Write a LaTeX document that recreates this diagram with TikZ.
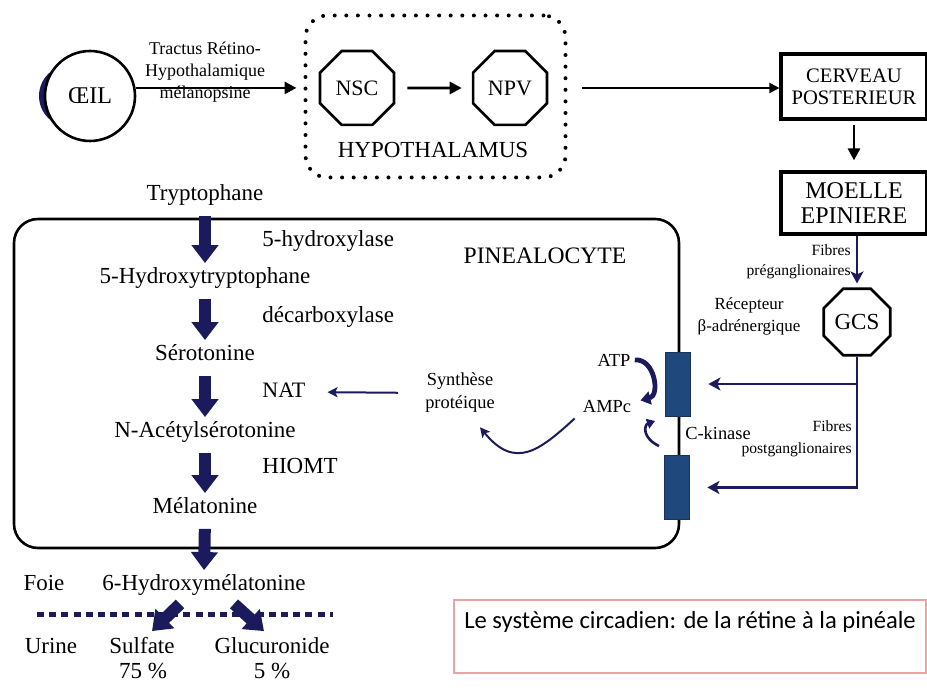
\documentclass[tikz,border=0pt]{standalone}
\usepackage{fontspec}
\setmainfont{Liberation Serif}
\newfontfamily\capfont{Carlito}
\usetikzlibrary{arrows.meta,positioning,shapes.geometric}
\definecolor{navy}{HTML}{1A1A5C}
\definecolor{recep}{HTML}{1F497D}
\definecolor{capline}{HTML}{E8A5A5}

\begin{document}
\begin{tikzpicture}[x=0.5pt, y=-0.5pt,
  txt/.style={inner sep=0pt, text height=8pt, text depth=2.5pt, font=\fontsize{11.5}{13}\selectfont},
  sml/.style={inner sep=0pt, align=center, font=\fontsize{9.2}{11.5}\selectfont},
  fib/.style={inner sep=0pt, align=right, font=\fontsize{7.8}{10}\selectfont},
  oct/.style={draw, regular polygon, regular polygon sides=8, inner sep=0pt, line width=1.3pt, minimum size=40pt, font=\fontsize{11}{13}\selectfont},
  brain/.style={draw, line width=1.6pt, align=center, minimum width=73pt, minimum height=32.5pt, inner sep=0pt},
  recbox/.style={draw=recep!70!black, fill=recep, minimum width=12.5pt, minimum height=32pt, inner sep=0pt},
  fat/.style={draw=navy, line width=6pt, -{Triangle[width=13pt,length=9pt]}},
  nv/.style={draw=navy, line width=1.4pt, -{Stealth[length=6pt,width=6.5pt,inset=1.5pt]}},
  nvthin/.style={draw=navy, line width=1pt, -{Stealth[length=5pt,width=5pt,inset=1.2pt]}},
  bk/.style={draw=black, line width=1.4pt, -{Triangle[length=6pt,width=6pt]}},
  bkthin/.style={draw=black, line width=1pt, -{Triangle[length=5pt,width=5pt]}}
]
\useasboundingbox (0,0) rectangle (927,688);
% top: eye -> hypothalamus -> brain
\fill[navy] (70,96) circle[radius=15.5pt];
\node[draw, circle, fill=white, line width=1.3pt, minimum size=45pt, inner sep=0pt, font=\fontsize{12}{14}\selectfont] (eye) at (90,96) {ŒIL};
\node[sml, font=\fontsize{9}{11}\selectfont] (tract) at (205,72) {Tractus Rétino-\\Hypothalamique\\mélanopsine};
\node[draw, line width=2pt, dash pattern=on 0pt off 5.8pt, line cap=round, rounded corners=11pt, minimum width=130pt, minimum height=81pt] (hypo) at (435.5,96.5) {};
\node[oct] (nsc) at (357,88) {NSC};
\node[oct] (npv) at (510,88) {NPV};
\node[txt] (hyplab) at (433,152) {HYPOTHALAMUS};
\node[brain, font=\fontsize{10.3}{11}\selectfont] (cerv) at (854,86.5) {CERVEAU\\POSTERIEUR};
\node[brain, font=\fontsize{12}{12.5}\selectfont, minimum height=31pt] (moel) at (854,203) {MOELLE\\EPINIERE};
\node[oct, minimum size=36pt, font=\fontsize{11.5}{13}\selectfont] (gcs) at (857,322) {GCS};
\draw[bk, shorten >=3.5pt] (eye.10) -- (eye.10 -| hypo.west);
\draw[bk, shorten <=6pt, shorten >=5pt] (nsc) -- (npv);
\draw[bkthin, shorten <=17pt] (npv.east) -- (npv.east -| cerv.west);
\draw[bk, shorten <=2pt, shorten >=5pt] (cerv.south) -- (moel.north);
\draw[nv, shorten >=2pt] (moel.south -| gcs.north) -- (gcs.north);
\node[fib, anchor=east] (fpre) at (851,262) {Fibres\\préganglionaires};
\node[sml, font=\fontsize{8.5}{11}\selectfont] (recept) at (749,316) {Récepteur\\β-adrénergique};
% pinealocyte
\node[draw, line width=1.3pt, rounded corners=12pt, minimum width=332.5pt, minimum height=164.5pt] (pin) at (346.5,383.5) {};
\node[txt, font=\fontsize{11.8}{13}\selectfont] (pinlab) at (545,258) {PINEALOCYTE};
\node[recbox] (rec1) at (677.5,384) {};
\node[recbox] (rec2) at (676.5,487.5) {};
\draw[nv] (gcs.south) |- ([xshift=9pt]rec2.east);
\draw[nv] (gcs.south |- rec1) -- ([xshift=9pt]rec1.east);
\node[fib, anchor=east, font=\fontsize{7.8}{11}\selectfont] (fpost) at (852,439) {Fibres\\postganglionaires};
\node[sml] (atp) at (614,360) {ATP};
\node[sml] (ampc) at (607,407) {AMPc};
\node[sml] (kin) at (718,433) {C-kinase};
\node[sml] (synth) at (460,393) {Synthèse\\protéique};
\draw[draw=navy, line width=2.4pt, -{Triangle[length=5pt,width=6.5pt]}] ([xshift=2pt]atp.east) .. controls +(20,-2) and +(20,-5) .. ([xshift=4.5pt]ampc.north east);
\coordinate (kbot) at (659,446);
\coordinate (ktop) at (655,421);
\draw[draw=navy, line width=1.3pt, -{Triangle[length=4pt,width=5pt]}] (kbot) .. controls (642,438) and (644,425) .. (ktop);
\draw[nvthin] ([xshift=-4pt,yshift=-2.5pt]ampc.south west) .. controls +(-35,32) and +(35,43) .. ([xshift=10pt,yshift=-7pt]synth.south);
% biosynthesis chain
\node[txt] (trp) at (205,195) {Tryptophane};
\node[txt] (htp) at (205,278) {5-Hydroxytryptophane};
\node[txt] (sero) at (205,355) {Sérotonine};
\node[txt] (nacs) at (205,432) {N-Acétylsérotonine};
\node[txt] (mela) at (205,508) {Mélatonine};
\node[txt] (hmela) at (204,585) {6-Hydroxymélatonine};
\node[txt, anchor=west] (hyd) at (262,241) {5-hydroxylase};
\node[txt, anchor=west] (deca) at (262,317) {décarboxylase};
\node[txt, anchor=west, font=\fontsize{11}{13}\selectfont] (nat) at (262,392) {NAT};
\node[txt, anchor=west] (hiomt) at (262,468) {HIOMT};
\draw[fat, shorten <=5pt, shorten >=2pt] (trp.south) -- (htp.north);
\draw[fat, shorten <=5pt, shorten >=2pt] (htp.south) -- (sero.north);
\draw[fat, shorten <=5pt, shorten >=2pt] (sero.south) -- (nacs.north);
\draw[fat, shorten <=5pt, shorten >=2pt] (nacs.south) -- (mela.north);
\draw[fat, shorten <=5pt, shorten >=2pt] (mela.south) -- (hmela.north);
\draw[nvthin, shorten <=13.5pt, shorten >=11pt] (synth.west) -- (nat.east);
% elimination
\node[txt] (foie) at (44,585) {Foie};
\node[txt] (urine) at (51,648) {Urine};
\node[txt] (sulf) at (142,648) {Sulfate};
\node[txt] (gluc) at (272,648) {Glucuronide};
\node[txt] (p75) at (143,673) {75 \%};
\node[txt] (p5) at (272,673) {5 \%};
\draw[draw=navy, line width=2.5pt, dash pattern=on 3.5pt off 2.6pt] (37,615) -- (333,615);
\draw[fat] ([xshift=-12pt,yshift=-4pt]hmela.south) -- ([xshift=5pt,yshift=3pt]sulf.north);
\draw[fat] ([xshift=15pt,yshift=-4pt]hmela.south) -- ([xshift=-4pt,yshift=3pt]gluc.north);
% caption
\node[draw=capline, line width=0.8pt, minimum width=236pt, minimum height=36.5pt, inner sep=0pt] (capbox) at (690,636.5) {};
\node[inner sep=0pt, font=\capfont\fontsize{12.3}{14}\selectfont] (capt) at (690,622) {Le système circadien: de la rétine à la pinéale};
\end{tikzpicture}
\end{document}
